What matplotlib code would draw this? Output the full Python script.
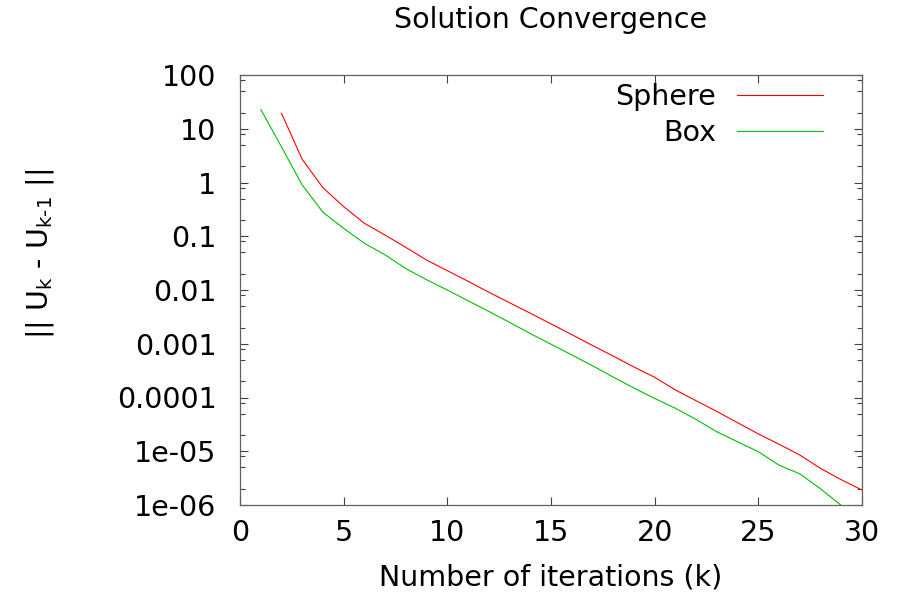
import numpy as np
import matplotlib
matplotlib.use("Agg")
import matplotlib.pyplot as plt
from matplotlib.ticker import LogLocator, FixedLocator, NullFormatter

# iteration counts and residual norms
sphere_k = list(range(2, 31))
sphere_res = [19.4, 2.7, 0.80, 0.355, 0.174, 0.105, 0.062, 0.036, 0.0229, 0.0145,
              0.0091, 0.0058, 0.0037, 0.00234, 0.00148, 9.3e-4, 5.9e-4, 3.7e-4,
              2.38e-4, 1.38e-4, 8.7e-5, 5.5e-5, 3.4e-5, 2.1e-5, 1.35e-5, 8.5e-6,
              4.8e-6, 2.95e-6, 1.9e-6]

box_k = list(range(1, 31))
box_res = [23.0, 4.6, 0.90, 0.28, 0.14, 0.074, 0.045, 0.025, 0.0155, 0.010,
           0.0063, 0.0040, 0.0025, 0.00155, 9.8e-4, 6.2e-4, 3.9e-4, 2.4e-4,
           1.5e-4, 9.6e-5, 6.3e-5, 3.9e-5, 2.3e-5, 1.5e-5, 9.8e-6, 5.5e-6,
           3.8e-6, 2.0e-6, 9.8e-7, 5e-7]

x_ticks = [0, 5, 10, 15, 20, 25, 30]
y_ticks = [1e-6, 1e-5, 1e-4, 1e-3, 1e-2, 1e-1, 1, 10, 100]
y_labels = ["1e-06", "1e-05", "0.0001", "0.001", "0.01", "0.1", "1", "10", "100"]

plt.rcParams['font.family'] = ['DejaVu Sans']
plt.rcParams['mathtext.fontset'] = 'dejavusans'
fs = 20.5

fig = plt.figure(figsize=(9.03, 6.0), dpi=100)
ax = fig.add_axes([240/903, 95/600, 622/903, 430/600])

ax.plot(sphere_k, sphere_res, color='#ff0000', lw=0.8, label='Sphere')
ax.plot(box_k, box_res, color='#00c000', lw=0.8, label='Box')

ax.set_yscale('log')
ax.set_xlim(0, 30)
ax.set_ylim(1e-6, 100)

ax.xaxis.set_major_locator(FixedLocator(x_ticks))
ax.set_xticklabels([str(v) for v in x_ticks])
ax.yaxis.set_major_locator(FixedLocator(y_ticks))
ax.set_yticklabels(y_labels)
ax.yaxis.set_minor_locator(LogLocator(base=10, subs=[2.0, 5.0, 8.0], numticks=20))
ax.yaxis.set_minor_formatter(NullFormatter())

ax.tick_params(which='both', direction='in', top=True, right=True,
               color='#404040', width=0.8, labelsize=fs)
ax.tick_params(which='major', length=6)
ax.tick_params(which='minor', length=3.5)
ax.tick_params(axis='y', pad=17)
ax.tick_params(axis='x', pad=10)

for sp in ax.spines.values():
    sp.set_color('#606060')
    sp.set_linewidth(0.9)

ax.set_xlabel('Number of iterations (k)', fontsize=fs, labelpad=12)
ax.set_ylabel(r'|| U$_\mathregular{k}$ - U$_\mathregular{k\text{-}1}$ ||', fontsize=fs)
ax.yaxis.set_label_coords(-(240 - 40) / 622, (505 - 254) / 430)
ax.yaxis.label.set_va('center')
fig.text(551/903, 1 - 20/600, 'Solution Convergence', ha='center', va='center', fontsize=fs)

leg = ax.legend(loc='upper right', bbox_to_anchor=(1 - 28/622, 1 + 3/430), markerfirst=False,
                frameon=False, fontsize=fs, handlelength=3.0, handletextpad=0.75,
                labelspacing=0.25, borderaxespad=0.0)
for t in leg.get_texts():
    t.set_ha('right')

fig.savefig('out.png', dpi=100)
